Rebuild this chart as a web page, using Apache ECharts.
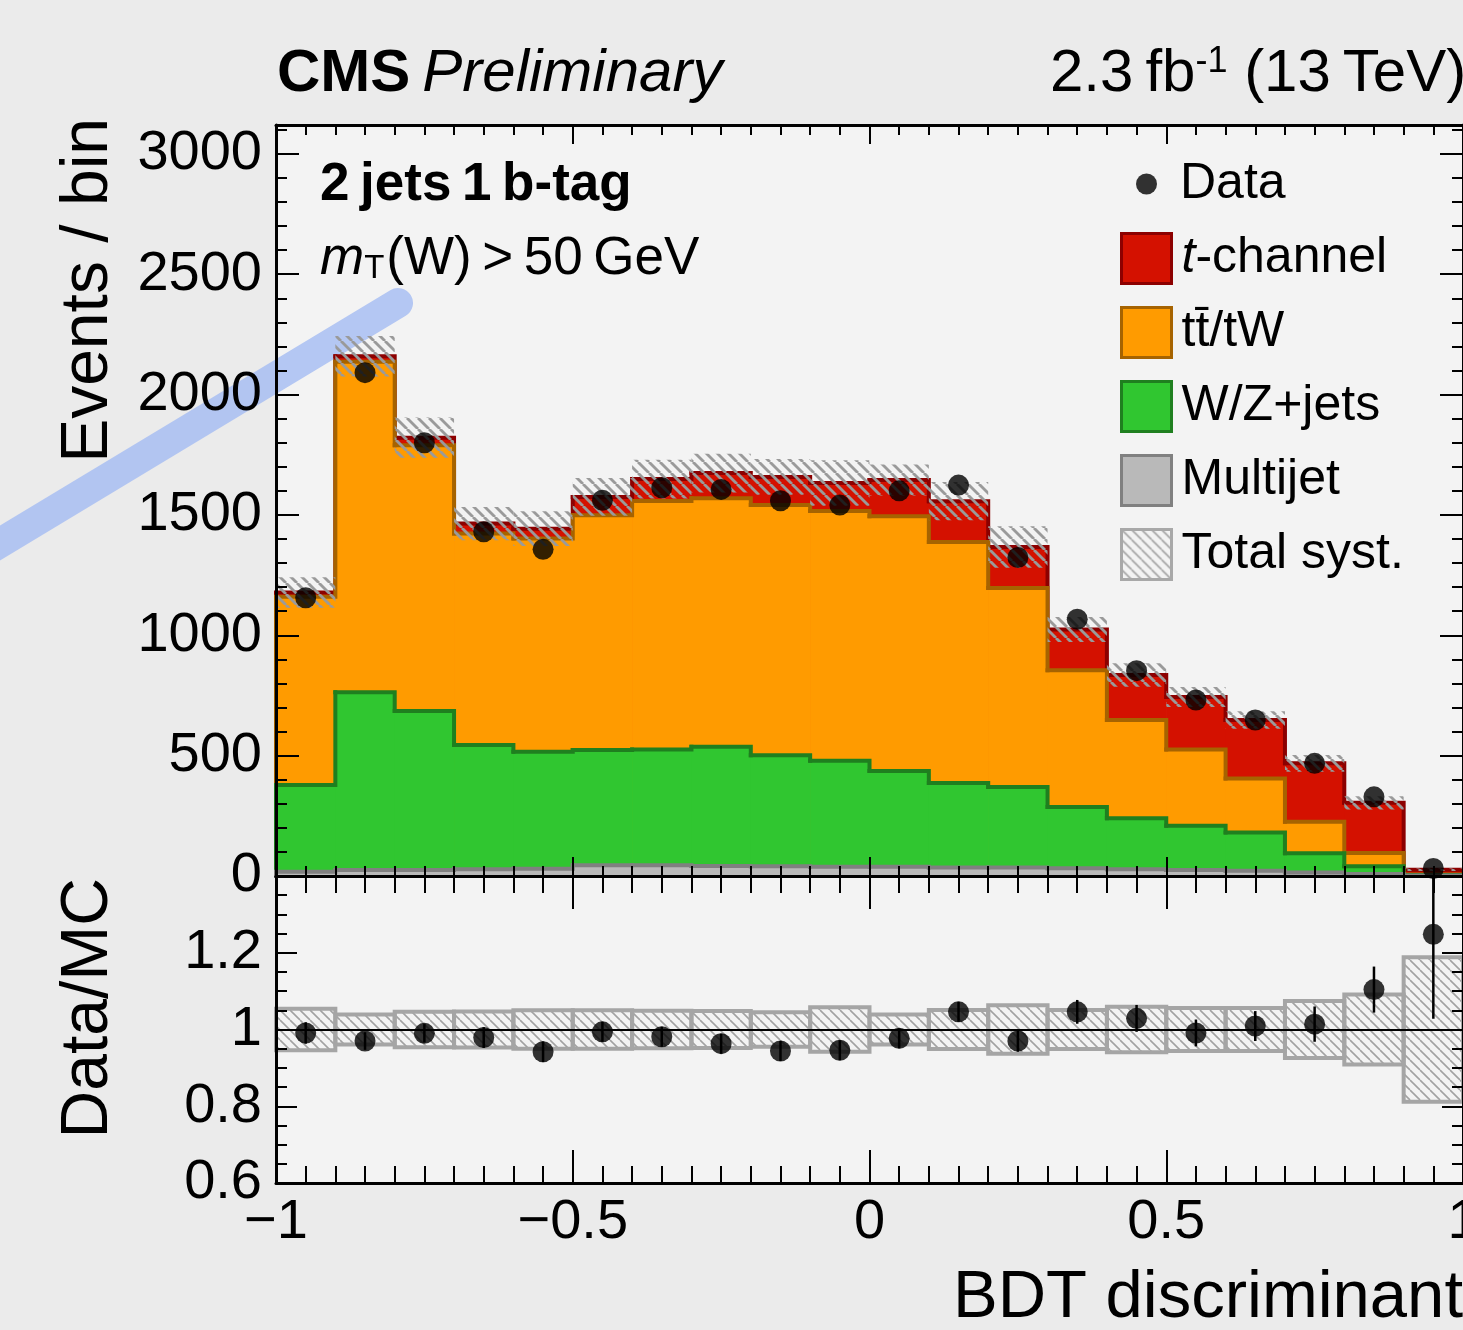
<!DOCTYPE html>
<html><head><meta charset="utf-8">
<script src="https://cdn.jsdelivr.net/npm/echarts@6/dist/echarts.min.js"></script>
<style>html,body{margin:0;padding:0;background:#ebebeb;} #c{width:1463px;height:1330px;}</style>
</head><body><div id="c"></div>
<script>
// ---------------- data ----------------
const binEdges = [-1.0,-0.9,-0.8,-0.7,-0.6,-0.5,-0.4,-0.3,-0.2,-0.1,0.0,0.1,0.2,0.3,0.4,0.5,0.6,0.7,0.8,0.9,1.0];
const multijet = [18,25,25,28,30,45,45,42,40,38,38,35,35,32,28,25,22,15,8,2];
const wzJets   = [360,738,661,516,486,478,481,495,462,441,398,351,335,255,212,184,159,79,32,2];
const ttbarTW  = [782,1373,1104,879,886,976,1032,1032,1039,1037,1059,1002,826,568,408,317,224,131,56,2];
const tChannel = [18,23,31,41,41,76,91,105,117,117,150,169,171,169,187,218,243,243,208,20];
const dataCounts = [1156,2091,1800,1430,1357,1561,1613,1606,1559,1541,1600,1624,1323,1067,853,731,648,468,329,31];
const systRel  = [0.054,0.039,0.046,0.047,0.050,0.050,0.049,0.048,0.045,0.058,0.039,0.051,0.063,0.051,0.059,0.056,0.056,0.074,0.091,0.188];
const ratioVals = [0.991,0.970,0.990,0.979,0.942,0.994,0.981,0.963,0.944,0.946,0.977,1.046,0.970,1.046,1.029,0.991,1.009,1.014,1.104,1.248];
const ratioErr  = [0.028,0.023,0.024,0.027,0.027,0.026,0.026,0.026,0.026,0.026,0.026,0.026,0.028,0.031,0.035,0.035,0.039,0.046,0.060,0.220];
const legendNames = ['t-channel','tt\u0304/tW','W/Z+jets','Multijet','Total syst.'];

// ---------------- helpers ----------------
const F = 'Liberation Sans, Arial, Helvetica, sans-serif';
const n = multijet.length;
const centers = binEdges.slice(0, n).map((e, i) => (e + binEdges[i + 1]) / 2);
const cumMJ = multijet.slice();
const cumWZ = wzJets.map((v, i) => cumMJ[i] + v);
const cumTT = ttbarTW.map((v, i) => cumWZ[i] + v);
const cumTot = tChannel.map((v, i) => cumTT[i] + v);

function hatch(size, color, width) {
  const c = document.createElement('canvas');
  c.width = size; c.height = size;
  const g = c.getContext('2d');
  g.strokeStyle = color; g.lineWidth = width;
  for (const o of [-size, 0, size]) { g.beginPath(); g.moveTo(o, 0); g.lineTo(o + size, size); g.stroke(); }
  return c;
}
const hatchUp = { image: hatch(11, '#9a9a9a', 2.8), repeat: 'repeat' };
const hatchLow = { image: hatch(10, '#a2a2a2', 1.6), repeat: 'repeat' };

function fillSeries(name, cum, fill) {
  return {
    type: 'custom', name, xAxisIndex: 0, yAxisIndex: 0, z: 2, silent: true,
    itemStyle: { color: fill },
    data: cum.map((v, i) => [binEdges[i], binEdges[i + 1], v]),
    encode: { x: [0, 1], y: 2 },
    renderItem(params, api) {
      const a = api.coord([api.value(0), 0]);
      const b = api.coord([api.value(1), api.value(2)]);
      return { type: 'rect', shape: { x: a[0], y: b[1], width: b[0] - a[0] + 0.7, height: a[1] - b[1] }, style: { fill } };
    }
  };
}
function lineSeries(cum, stroke) {
  return {
    type: 'custom', name: '_line', xAxisIndex: 0, yAxisIndex: 0, z: 2, silent: true,
    data: cum.map((v, i) => [binEdges[i], binEdges[i + 1], v, i < n - 1 ? cum[i + 1] : 0, i === 0 ? 1 : 0]),
    encode: { x: [0, 1], y: 2 },
    renderItem(params, api) {
      const a = api.coord([api.value(0), 0]);
      const b = api.coord([api.value(1), api.value(2)]);
      const c = api.coord([api.value(1), api.value(3)]);
      const pts = [];
      if (api.value(4)) pts.push([a[0], a[1]]);
      pts.push([a[0], b[1]], [b[0], b[1]], [c[0], c[1]]);
      return { type: 'polyline', shape: { points: pts }, style: { stroke, lineWidth: 4, fill: null, lineCap: 'square', lineJoin: 'miter' } };
    }
  };
}

const C = {
  red: '#d41100', redL: '#8c0000',
  org: '#ff9b00', orgL: '#a66300',
  grn: '#30c630', grnL: '#1f7f1f',
  gry: '#b9b9b9', gryL: '#808080'
};

const plain = v => String(Math.round(v * 1000) / 1000);
const axisLineS = { show: true, onZero: false, lineStyle: { color: '#000', width: 3 } };
function xAx(grid, pos, major, minor, labels) {
  return {
    type: 'value', gridIndex: grid, position: pos, min: -1, max: 1, interval: 0.5, z: 10,
    axisLine: axisLineS, splitLine: { show: false },
    axisTick: { show: true, inside: true, length: major, lineStyle: { color: '#000', width: 2 } },
    minorTick: { show: true, splitNumber: 10, length: minor, lineStyle: { color: '#000', width: 2 } },
    axisLabel: labels ? {
      show: true, color: '#000', fontSize: 56, fontFamily: F, margin: 12,
      formatter: v => (v < 0 ? '\u2212' + plain(Math.abs(v)) : plain(v))
    } : { show: false }
  };
}
function yAxU(pos, interval, len, labels, line) {
  return {
    type: 'value', gridIndex: 0, position: pos, min: 0, max: 3120, interval, z: 10,
    axisLine: line ? axisLineS : { show: false, onZero: false }, splitLine: { show: false },
    axisTick: { show: true, inside: true, length: len, lineStyle: { color: '#000', width: 2 } },
    axisLabel: labels ? { show: true, color: '#000', fontSize: 56, fontFamily: F, margin: 14, showMaxLabel: false, formatter: plain } : { show: false }
  };
}
function yAxL(pos, labels) {
  return {
    type: 'value', gridIndex: 1, position: pos, min: 0.6, max: 1.4, interval: 0.2, z: 10,
    axisLine: axisLineS, splitLine: { show: false },
    axisTick: { show: true, inside: true, length: 21, lineStyle: { color: '#000', width: 2 } },
    minorTick: { show: true, splitNumber: 4, length: 11, lineStyle: { color: '#000', width: 2 } },
    axisLabel: labels ? { show: true, color: '#000', fontSize: 56, fontFamily: F, margin: 14, showMaxLabel: false, formatter: plain } : { show: false }
  };
}

const chart = echarts.init(document.getElementById('c'), null, { renderer: 'canvas' });
chart.setOption({
  animation: false,
  backgroundColor: '#ebebeb',
  grid: [
    { left: 276, right: 0, top: 125, height: 751, show: true, backgroundColor: '#f3f3f3', borderWidth: 0, containLabel: false, outerBoundsMode: 'none' },
    { left: 276, right: 0, top: 876, height: 307, show: true, backgroundColor: '#f3f3f3', borderWidth: 0, containLabel: false, outerBoundsMode: 'none' }
  ],
  xAxis: [
    xAx(0, 'bottom', 19, 10, false),
    xAx(0, 'top', 19, 10, false),
    xAx(1, 'bottom', 33, 17, true),
    xAx(1, 'top', 33, 17, false)
  ],
  yAxis: [
    yAxU('left', 500, 23, true, true),
    yAxU('left', 100, 11, false, false),
    yAxU('right', 500, 23, false, true),
    yAxU('right', 100, 11, false, false),
    yAxL('left', true),
    yAxL('right', false)
  ],
  legend: [
    {
      data: [{ name: 'Data', icon: 'circle', itemStyle: { color: '#000' } }],
      left: 1136, top: 159, padding: 0, orient: 'vertical', itemWidth: 21, itemHeight: 21,
      selectedMode: false, textStyle: { fontSize: 50, fontFamily: F, color: '#000', padding: [0, 0, 0, 18] }
    },
    {
      data: [
        { name: legendNames[0], icon: 'rect', itemStyle: { color: C.red, borderColor: C.redL, borderWidth: 3 } },
        { name: legendNames[1], icon: 'rect', itemStyle: { color: C.org, borderColor: C.orgL, borderWidth: 3 } },
        { name: legendNames[2], icon: 'rect', itemStyle: { color: C.grn, borderColor: C.grnL, borderWidth: 3 } },
        { name: legendNames[3], icon: 'rect', itemStyle: { color: C.gry, borderColor: C.gryL, borderWidth: 3 } },
        { name: legendNames[4], icon: 'rect', itemStyle: { color: hatchLow, borderColor: '#a8a8a8', borderWidth: 3 } }
      ],
      left: 1120, top: 232, padding: 0, orient: 'vertical', itemWidth: 50, itemHeight: 50, itemGap: 21,
      selectedMode: false,
      formatter: nm => (nm === 't-channel' ? '{it|t}-channel' : nm),
      textStyle: { fontSize: 50, fontFamily: F, color: '#000', padding: [0, 0, 0, 5],
        rich: { it: { fontStyle: 'italic', fontSize: 50, fontFamily: F, color: '#000' } } }
    }
  ],
  graphic: [
    { type: 'line', z: 1, silent: true, shape: { x1: -10, y1: 549, x2: 398, y2: 303 },
      style: { stroke: 'rgba(168,190,242,0.85)', lineWidth: 30, lineCap: 'round' } },
    { type: 'text', z: 20, x: 277, y: 74, style: {
      text: '{b|CMS}{i|Preliminary}', verticalAlign: 'middle', fill: '#000',
      rich: { b: { fontSize: 60, fontWeight: 'bold', fontFamily: F, fill: '#000', padding: [0, 12, 0, 0] },
              i: { fontSize: 60, fontStyle: 'italic', fontFamily: F, fill: '#000' } } } },
    { type: 'text', z: 20, x: 1050, y: 74, style: {
      text: '{n|2.3\u2009fb}{s|-1}{n| (13\u2009TeV)}', verticalAlign: 'middle', fill: '#000',
      rich: { n: { fontSize: 60, fontFamily: F, fill: '#000', lineHeight: 60 },
              s: { fontSize: 36, fontFamily: F, fill: '#000', lineHeight: 36, verticalAlign: 'top' } } } },
    { type: 'text', z: 20, x: 320, y: 185, style: {
      text: '2\u2009jets\u20091\u2009b-tag', fontSize: 53, fontWeight: 'bold', fontFamily: F, fill: '#000', verticalAlign: 'middle' } },
    { type: 'text', z: 20, x: 320, y: 259, style: {
      text: '{i|m}{sub|T}{n|(W)\u2009>\u200950\u2009GeV}', verticalAlign: 'middle', fill: '#000',
      rich: { i: { fontSize: 53, fontStyle: 'italic', fontFamily: F, fill: '#000', lineHeight: 53 },
              sub: { fontSize: 33, fontFamily: F, fill: '#000', lineHeight: 33, verticalAlign: 'bottom', padding: [0, 2, 0, 0] },
              n: { fontSize: 53, fontFamily: F, fill: '#000', lineHeight: 53 } } } },
    { type: 'text', z: 20, x: 89, y: 118, rotation: Math.PI / 2, style: {
      text: 'Events / bin', fontSize: 66, fontFamily: F, fill: '#000', align: 'right', verticalAlign: 'middle' } },
    { type: 'text', z: 20, x: 89, y: 878, rotation: Math.PI / 2, style: {
      text: 'Data/MC', fontSize: 66, fontFamily: F, fill: '#000', align: 'right', verticalAlign: 'middle' } },
    { type: 'text', z: 20, x: 1463, y: 1299, style: {
      text: 'BDT discriminant', fontSize: 67, fontFamily: F, fill: '#000', align: 'right', verticalAlign: 'middle' } }
  ],
  series: [
    fillSeries(legendNames[0], cumTot, C.red), lineSeries(cumTot, C.redL),
    fillSeries(legendNames[1], cumTT, C.org), lineSeries(cumTT, C.orgL),
    fillSeries(legendNames[2], cumWZ, C.grn), lineSeries(cumWZ, C.grnL),
    fillSeries(legendNames[3], cumMJ, C.gry), lineSeries(cumMJ, C.gryL),
    {
      type: 'custom', name: legendNames[4], xAxisIndex: 0, yAxisIndex: 0, z: 3, silent: true,
      itemStyle: { color: '#aaa' },
      data: cumTot.map((v, i) => [binEdges[i], binEdges[i + 1], v * (1 - systRel[i]), v * (1 + systRel[i])]),
      encode: { x: [0, 1], y: [2, 3] },
      renderItem(params, api) {
        const a = api.coord([api.value(0), api.value(2)]);
        const b = api.coord([api.value(1), api.value(3)]);
        return { type: 'rect', shape: { x: a[0], y: b[1], width: b[0] - a[0], height: a[1] - b[1] }, style: { fill: hatchUp } };
      }
    },
    {
      type: 'scatter', name: 'Data', xAxisIndex: 0, yAxisIndex: 0, z: 5, silent: true,
      symbol: 'circle', symbolSize: 21, itemStyle: { color: '#000' },
      data: dataCounts.map((v, i) => [centers[i], v])
    },
    {
      type: 'custom', name: 'Total syst.', xAxisIndex: 2, yAxisIndex: 4, z: 3, silent: true,
      data: systRel.map((s, i) => [binEdges[i], binEdges[i + 1], 1 - s, 1 + s]),
      encode: { x: [0, 1], y: [2, 3] },
      renderItem(params, api) {
        const a = api.coord([api.value(0), api.value(2)]);
        const b = api.coord([api.value(1), api.value(3)]);
        return { type: 'rect', shape: { x: a[0], y: b[1], width: b[0] - a[0], height: a[1] - b[1] },
          style: { fill: hatchLow, stroke: '#a5a5a5', lineWidth: 4 } };
      }
    },
    {
      type: 'custom', name: '_err', xAxisIndex: 2, yAxisIndex: 4, z: 4, silent: true,
      data: ratioVals.map((r, i) => [centers[i], r - ratioErr[i], r + ratioErr[i]]),
      encode: { x: 0, y: [1, 2] },
      renderItem(params, api) {
        const cs = params.coordSys;
        const a = api.coord([api.value(0), api.value(1)]);
        const b = api.coord([api.value(0), api.value(2)]);
        return { type: 'line', shape: { x1: a[0], y1: Math.min(a[1], cs.y + cs.height), x2: b[0], y2: Math.max(b[1], cs.y) },
          style: { stroke: '#000', lineWidth: 2.5 } };
      }
    },
    {
      type: 'scatter', name: 'Ratio', xAxisIndex: 2, yAxisIndex: 4, z: 5, silent: true,
      symbol: 'circle', symbolSize: 21, itemStyle: { color: '#000' },
      data: ratioVals.map((r, i) => [centers[i], r]),
      markLine: { silent: true, symbol: 'none', label: { show: false },
        lineStyle: { color: '#000', width: 2, type: 'solid' }, data: [{ yAxis: 1 }] }
    }
  ]
});
</script></body></html>
